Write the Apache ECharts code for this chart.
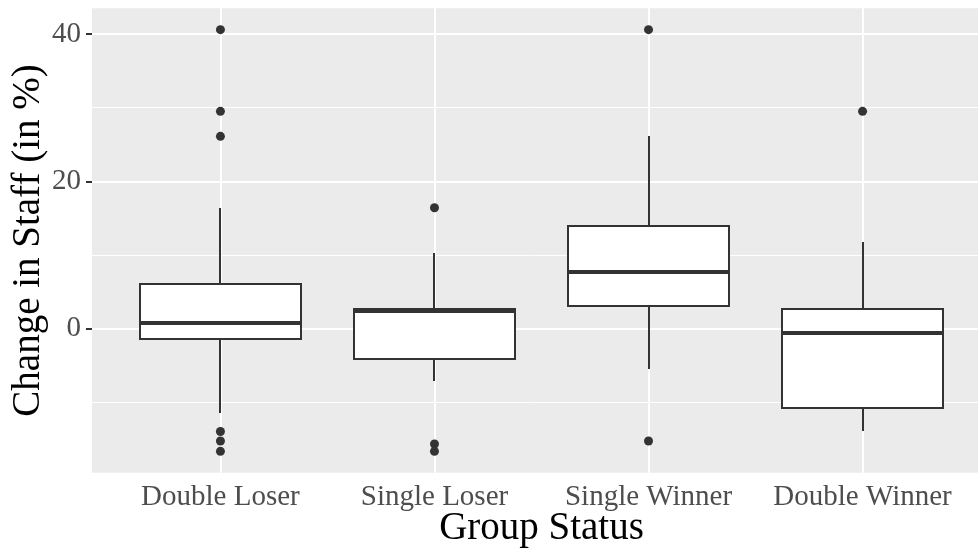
<!DOCTYPE html>
<html>
<head>
<meta charset="utf-8">
<script src="https://cdn.jsdelivr.net/npm/echarts@6/dist/echarts.min.js"></script>
<style>
  html, body { margin: 0; padding: 0; background: #ffffff; }
  #chart { width: 978px; height: 548px; }
</style>
</head>
<body>
<div id="chart"></div>
<script>
// ---- data ----
const categories = ['Double Loser', 'Single Loser', 'Single Winner', 'Double Winner'];
const whiskerLow  = [-11.5, -7.2, -5.5, -14.0];
const q1          = [-1.45, -4.1, 3.1, -10.85];
const median      = [0.7, 2.35, 7.65, -0.65];
const q3          = [6.05, 2.7, 13.9, 2.6];
const whiskerHigh = [16.3, 10.2, 26.1, 11.75];
const outliers = [
  [40.6, 29.5, 26.1, -14.0, -15.3, -16.7],
  [16.4, -15.7, -16.7],
  [40.6, -15.3],
  [29.5]
];
const yMajorTicks = [0, 20, 40];
const yMinorTicks = [-10, 10, 30];
const yMin = -19.6, yMax = 43.5;
const xPositions = [1, 2, 3, 4];
const boxHalfWidth = 0.375;

// ---- build series data ----
const boxData = categories.map((c, i) => [xPositions[i], whiskerLow[i], q1[i], median[i], q3[i], whiskerHigh[i]]);
const outlierData = [];
outliers.forEach((arr, i) => arr.forEach(v => outlierData.push([xPositions[i], v])));

const FONT = 'Liberation Serif';
const INK = '#333333';

const chart = echarts.init(document.getElementById('chart'), null, { renderer: 'canvas' });

function renderBox(params, api) {
  const x = api.value(0);
  const lo = api.value(1), b1 = api.value(2), md = api.value(3), b3 = api.value(4), hi = api.value(5);
  const cx = Math.round(api.coord([x, 0])[0]);
  const lx = Math.round(api.coord([x - boxHalfWidth, 0])[0]);
  const rx = Math.round(api.coord([x + boxHalfWidth, 0])[0]);
  const yLo = Math.round(api.coord([x, lo])[1]);
  const y1 = Math.round(api.coord([x, b1])[1]);
  const yMd = Math.round(api.coord([x, md])[1]);
  const y3 = Math.round(api.coord([x, b3])[1]);
  const yHi = Math.round(api.coord([x, hi])[1]);
  const lineStyle = { stroke: INK, lineWidth: 2 };
  return {
    type: 'group',
    children: [
      { type: 'line', shape: { x1: cx, y1: y3, x2: cx, y2: yHi }, style: lineStyle },
      { type: 'line', shape: { x1: cx, y1: y1, x2: cx, y2: yLo }, style: lineStyle },
      { type: 'rect', shape: { x: lx, y: y3, width: rx - lx, height: y1 - y3 },
        style: { fill: '#ffffff', stroke: INK, lineWidth: 2 } },
      { type: 'line', shape: { x1: lx, y1: yMd, x2: rx, y2: yMd },
        style: { stroke: INK, lineWidth: 4 } }
    ]
  };
}

const option = {
  animation: false,
  backgroundColor: '#ffffff',
  grid: {
    left: 92, top: 8.3, right: -13, bottom: 75.3,
    show: true, backgroundColor: '#EBEBEB', borderWidth: 0,
    containLabel: false,
    outerBoundsMode: 'none'
  },
  xAxis: {
    type: 'value',
    min: 0.4, max: 4.6,
    axisLine: { show: false },
    axisTick: { show: true, customValues: xPositions, length: 6, lineStyle: { color: INK, width: 2 } },
    axisLabel: {
      show: true, customValues: xPositions, margin: 10,
      formatter: v => categories[Math.round(v) - 1] || '',
      color: '#4D4D4D', fontFamily: FONT, fontSize: 29
    },
    splitLine: { show: true, lineStyle: { color: '#ffffff', width: 2 } },
    name: 'Group Status',
    nameLocation: 'middle',
    nameMoveOverlap: false,
    nameGap: 37,
    nameTextStyle: { color: '#000000', fontFamily: FONT, fontSize: 39 }
  },
  yAxis: [
    {
      type: 'value', min: yMin, max: yMax,
      axisLine: { show: false },
      axisTick: { show: false, customValues: yMinorTicks },
      axisLabel: { show: false, customValues: yMinorTicks },
      splitLine: { show: true, lineStyle: { color: '#ffffff', width: 1 } }
    },
    {
      type: 'value', min: yMin, max: yMax, position: 'left',
      axisLine: { show: false },
      axisTick: { show: true, customValues: yMajorTicks, length: 6, lineStyle: { color: INK, width: 2 } },
      axisLabel: {
        show: true, customValues: yMajorTicks, margin: 11,
        color: '#4D4D4D', fontFamily: FONT, fontSize: 29
      },
      splitLine: { show: true, lineStyle: { color: '#ffffff', width: 2 } },
      name: 'Change in Staff (in %)',
      nameLocation: 'middle',
      nameMoveOverlap: false,
      nameGap: 44,
      nameTextStyle: { color: '#000000', fontFamily: FONT, fontSize: 39 }
    }
  ],
  series: [
    {
      type: 'custom',
      xAxisIndex: 0, yAxisIndex: 1,
      renderItem: renderBox,
      encode: { x: 0, y: [1, 2, 3, 4, 5] },
      data: boxData,
      silent: true,
      z: 3
    },
    {
      type: 'scatter',
      xAxisIndex: 0, yAxisIndex: 1,
      data: outlierData,
      symbol: 'circle',
      symbolSize: 9,
      itemStyle: { color: INK, opacity: 1 },
      silent: true,
      z: 4
    }
  ]
};
chart.setOption(option);
</script>
</body>
</html>
